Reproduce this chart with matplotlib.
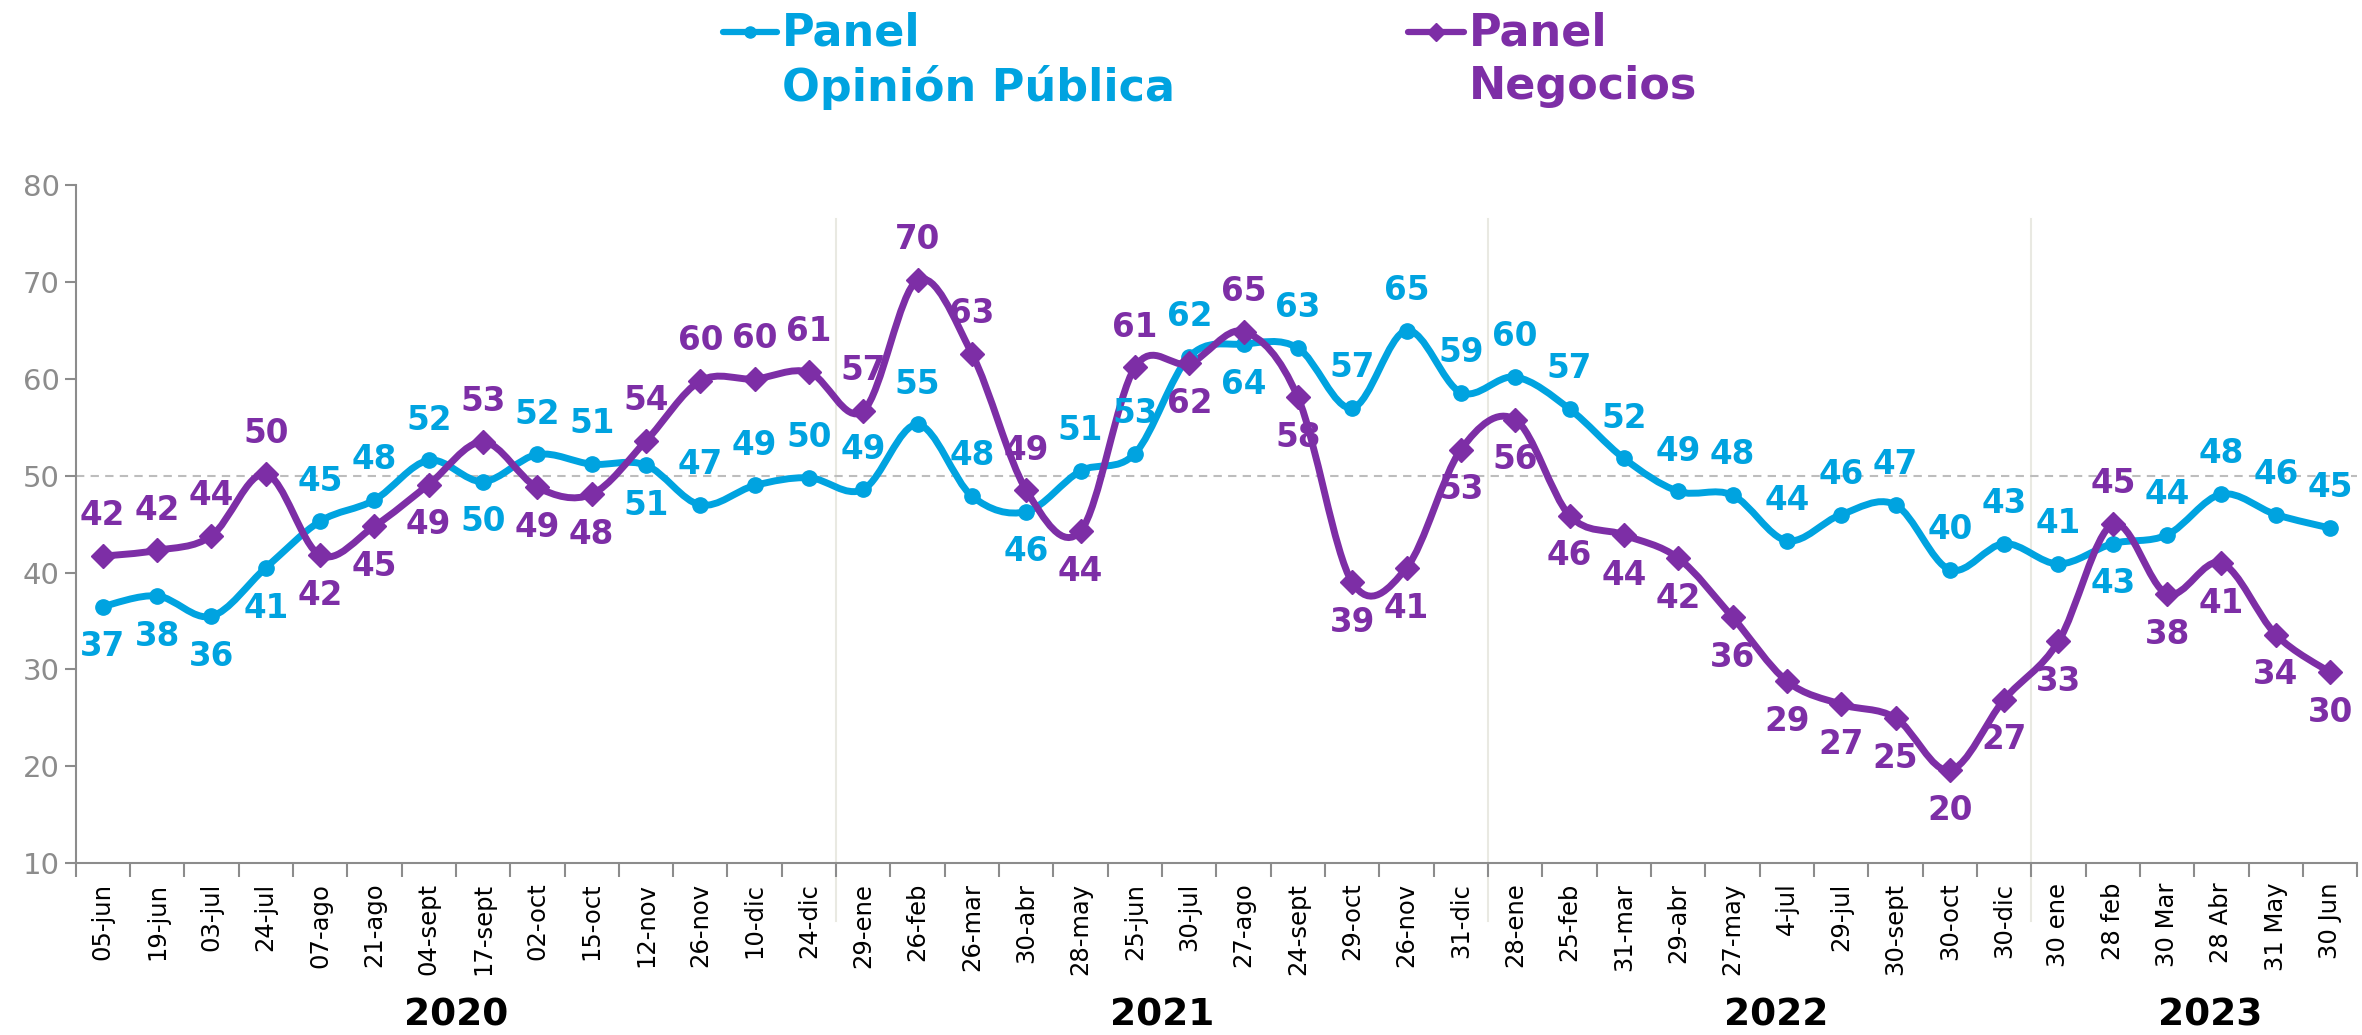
import numpy as np
import matplotlib
matplotlib.use("Agg")
import matplotlib.pyplot as plt
from matplotlib.path import Path
from matplotlib.patches import PathPatch
from matplotlib.lines import Line2D

# Datos
fechas = ['05-jun', '19-jun', '03-jul', '24-jul', '07-ago', '21-ago', '04-sept', '17-sept',
          '02-oct', '15-oct', '12-nov', '26-nov', '10-dic', '24-dic', '29-ene', '26-feb',
          '26-mar', '30-abr', '28-may', '25-jun', '30-jul', '27-ago', '24-sept', '29-oct',
          '26-nov', '31-dic', '28-ene', '25-feb', '31-mar', '29-abr', '27-may', '4-jul',
          '29-jul', '30-sept', '30-oct', '30-dic', '30 ene', '28 feb', '30 Mar', '28 Abr',
          '31 May', '30 Jun']

opinion_publica = [36.5, 37.6, 35.5, 40.5, 45.3, 47.5, 51.6, 49.4, 52.2, 51.2, 51.1, 47.0,
                   49.0, 49.8, 48.6, 55.3, 47.9, 46.3, 50.5, 52.3, 62.3, 63.6, 63.2, 57.0,
                   65.0, 58.6, 60.2, 56.9, 51.8, 48.4, 48.0, 43.3, 46.0, 47.0, 40.3, 43.0,
                   40.9, 43.0, 43.9, 48.1, 46.0, 44.6]
opinion_labels = [37, 38, 36, 41, 45, 48, 52, 50, 52, 51, 51, 47, 49, 50, 49, 55, 48, 46, 51,
                  53, 62, 64, 63, 57, 65, 59, 60, 57, 52, 49, 48, 44, 46, 47, 40, 43, 41, 43,
                  44, 48, 46, 45]
opinion_pos = "bbbbaaabaabaaaaaabaaabaaaaaaaaaaaaaaabaaaa"

negocios = [41.7, 42.3, 43.8, 50.2, 41.8, 44.8, 49.1, 53.5, 48.8, 48.1, 53.6, 59.8, 60.0,
            60.7, 56.7, 70.2, 62.6, 48.5, 44.3, 61.2, 61.6, 64.9, 58.1, 39.0, 40.5, 52.7,
            55.8, 45.9, 43.9, 41.5, 35.4, 28.8, 26.4, 25.0, 19.6, 26.9, 32.9, 45.0, 37.8,
            41.0, 33.6, 29.7]
negocios_labels = [42, 42, 44, 50, 42, 45, 49, 53, 49, 48, 54, 60, 60, 61, 57, 70, 63, 49,
                   44, 61, 62, 65, 58, 39, 41, 53, 56, 46, 44, 42, 36, 29, 27, 25, 20, 27,
                   33, 45, 38, 41, 34, 30]
negocios_pos = "aaaabbbabbaaaaaaaabababbbbbbbbbbbbbbbabbbb"

anios = ['2020', '2021', '2022', '2023']
anio_centro = [6.5, 19.5, 30.8, 38.8]
separadores = [13.5, 25.5, 35.5]

AZUL = '#00A3E0'
MORADO = '#7D2EA6'
GRIS = '#8C8C8C'


def curva_suave(xs, ys):
    pts = np.column_stack([xs, ys]).astype(float)
    n = len(pts)
    verts = [pts[0]]
    codes = [Path.MOVETO]
    for i in range(n - 1):
        p0 = pts[max(i - 1, 0)]
        p1 = pts[i]
        p2 = pts[i + 1]
        p3 = pts[min(i + 2, n - 1)]
        verts += [p1 + (p2 - p0) / 6, p2 - (p3 - p1) / 6, p2]
        codes += [Path.CURVE4] * 3
    return Path(verts, codes)


fig = plt.figure(figsize=(23.62, 10.35), dpi=100)
ax = fig.add_axes([0.032, 0.166, 0.966, 0.655])
x = np.arange(len(fechas))

ax.axhline(50, color='#BDBDBD', lw=1.5, ls=(0, (4, 3)), zorder=1)
for s in separadores:
    ax.axvline(s, ymin=-0.085, ymax=0.95, color='#E9E9E2', lw=1.5, clip_on=False, zorder=0)

for ys, col, mk, ms in [(opinion_publica, AZUL, 'o', 11), (negocios, MORADO, 'D', 12)]:
    ax.add_patch(PathPatch(curva_suave(x, ys), facecolor='none', edgecolor=col, lw=5,
                           capstyle='round', joinstyle='round', zorder=3))
    ax.plot(x, ys, ls='none', marker=mk, ms=ms, color=col, zorder=4)

for ys, labs, pos, col in [(opinion_publica, opinion_labels, opinion_pos, AZUL),
                           (negocios, negocios_labels, negocios_pos, MORADO)]:
    for xi, yi, lab, p in zip(x, ys, labs, pos):
        dy = 29 if p == 'a' else -29
        ax.annotate(str(lab), (xi, yi), xytext=(0, dy), textcoords='offset points',
                    ha='center', va='center', fontsize=23.5, fontweight='bold', color=col,
                    zorder=5)

ax.set_xlim(-0.5, len(fechas) - 0.5)
ax.set_ylim(10, 80)
ax.set_yticks(range(10, 81, 10))
ax.set_xticks(x)
ax.set_xticklabels(fechas, rotation=90, fontsize=17.5)
ax.set_xticks(np.arange(-0.5, len(fechas), 1), minor=True)
ax.tick_params(axis='x', which='major', length=0, pad=14)
ax.tick_params(axis='x', which='minor', length=10, width=1.5, color=GRIS)
ax.tick_params(axis='y', length=8, width=1.5, color=GRIS, labelsize=21, labelcolor=GRIS)
for lado in ['top', 'right']:
    ax.spines[lado].set_visible(False)
for lado in ['left', 'bottom']:
    ax.spines[lado].set_color(GRIS)
    ax.spines[lado].set_linewidth(1.5)

for anio, c in zip(anios, anio_centro):
    ax.text(c, -0.225, anio, transform=ax.get_xaxis_transform(), ha='center', va='center',
            fontsize=27, fontweight='bold', color='black')

# Leyenda
for x0, x1, col, mk, ms, txt in [(0.306, 0.329, AZUL, 'o', 8, 'Panel\nOpinión Pública'),
                                  (0.596, 0.620, MORADO, 'D', 9, 'Panel\nNegocios')]:
    fig.add_artist(Line2D([x0, x1], [0.969, 0.969], transform=fig.transFigure, color=col,
                          lw=4.5, solid_capstyle='round'))
    fig.add_artist(Line2D([(x0 + x1) / 2], [0.969], transform=fig.transFigure, color=col,
                          marker=mk, ms=ms, ls='none'))
    fig.text(x1 + 0.002, 0.989, txt, ha='left', va='top', fontsize=32, fontweight='bold',
             color=col, linespacing=1.3)

fig.savefig('out.png', dpi=100, facecolor='white')
